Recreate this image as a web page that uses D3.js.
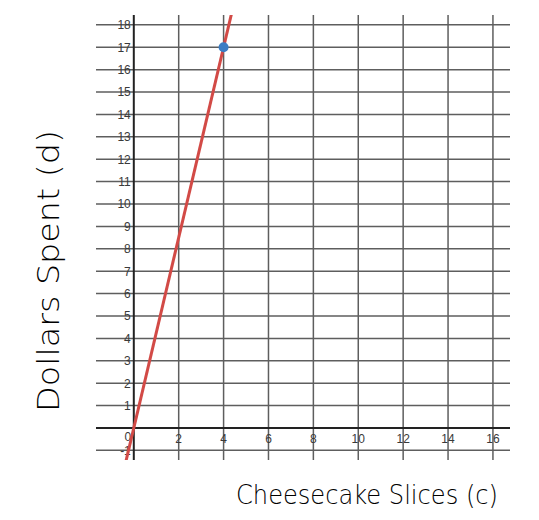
<!DOCTYPE html>
<html>
<head>
<meta charset="utf-8">
<script src="https://cdn.jsdelivr.net/npm/d3@7"></script>
<style>
  body { margin: 0; background: #fff; }
</style>
</head>
<body>
<div id="chart"></div>
<script>
    // data
    var xTicks = [0, 2, 4, 6, 8, 10, 12, 14, 16];
    var yTicks = [-1, 1, 2, 3, 4, 5, 6, 7, 8, 9, 10, 11, 12, 13, 14, 15, 16, 17, 18];
    var lineC = [-0.4, 4.4];
    var lineD = [-1.7, 18.7];
    var pointC = [4];
    var pointD = [17];
    var xTitle = "Cheesecake Slices (c)";
    var yTitle = "Dollars Spent (d)";

    var width = 539, height = 520;

    var svg = d3.select("#chart")
      .append("svg")
      .attr("width", width)
      .attr("height", height);

    // plot area in pixels
    var plotL = 96, plotR = 510, plotT = 15, plotB = 460;

    var x = d3.scaleLinear()
      .domain([-1.684, 16.76])
      .range([plotL, plotR]);
    var y = d3.scaleLinear()
      .domain([-1.43, 18.44])
      .range([plotB, plotT]);

    // grid lines
    var grid = svg.append("g");
    grid.selectAll("line.h")
      .data(yTicks)
      .enter().append("line")
      .attr("class", "h")
      .attr("x1", plotL).attr("x2", plotR)
      .attr("y1", function (d) { return y(d); })
      .attr("y2", function (d) { return y(d); })
      .attr("stroke", "#5e5e5e")
      .attr("stroke-width", 1.5);
    grid.selectAll("line.v")
      .data(xTicks.filter(function (d) { return d !== 0; }))
      .enter().append("line")
      .attr("class", "v")
      .attr("y1", plotT).attr("y2", plotB)
      .attr("x1", function (d) { return x(d); })
      .attr("x2", function (d) { return x(d); })
      .attr("stroke", "#5e5e5e")
      .attr("stroke-width", 1.5);

    // axes
    svg.append("line")
      .attr("x1", plotL).attr("x2", plotR)
      .attr("y1", y(0)).attr("y2", y(0))
      .attr("stroke", "#222")
      .attr("stroke-width", 2);
    svg.append("line")
      .attr("x1", x(0)).attr("x2", x(0))
      .attr("y1", plotT).attr("y2", plotB)
      .attr("stroke", "#222")
      .attr("stroke-width", 2);

    // tick labels
    svg.selectAll("text.yt")
      .data(yTicks)
      .enter().append("text")
      .attr("class", "yt")
      .attr("x", x(0) - 3)
      .attr("y", function (d) { return y(d); })
      .attr("dy", "0.36em")
      .attr("text-anchor", "end")
      .attr("font-family", "Liberation Sans, Arial, sans-serif")
      .attr("font-size", 12)
      .attr("fill", "#3a3a3a")
      .text(function (d) { return d; });

    svg.selectAll("text.xt")
      .data(xTicks)
      .enter().append("text")
      .attr("class", "xt")
      .attr("x", function (d) { return d === 0 ? x(d) - 6 : x(d); })
      .attr("y", function (d) { return d === 0 ? y(0) + 13 : y(0) + 15; })
      .attr("text-anchor", "middle")
      .attr("font-family", "Liberation Sans, Arial, sans-serif")
      .attr("font-size", 12)
      .attr("fill", "#3a3a3a")
      .text(function (d) { return d; });

    // line, clipped to plot
    svg.append("clipPath")
      .attr("id", "plotClip")
      .append("rect")
      .attr("x", plotL).attr("y", plotT)
      .attr("width", plotR - plotL).attr("height", plotB - plotT);

    var linePts = lineC.map(function (c, i) { return { c: c, d: lineD[i] }; });
    svg.append("path")
      .datum(linePts)
      .attr("clip-path", "url(#plotClip)")
      .attr("fill", "none")
      .attr("stroke", "#d24a46")
      .attr("stroke-width", 3)
      .attr("d", d3.line()
        .x(function (d) { return x(d.c); })
        .y(function (d) { return y(d.d); }));

    svg.selectAll("circle")
      .data(pointC)
      .enter().append("circle")
      .attr("cx", function (d) { return x(d); })
      .attr("cy", function (d, i) { return y(pointD[i]); })
      .attr("r", 5)
      .attr("fill", "#3b7dc4");

    // axis titles (handwritten in the original)
    svg.append("text")
      .attr("x", 236)
      .attr("y", 504)
      .attr("font-family", "DejaVu Sans, sans-serif")
      .attr("font-weight", 200)
      .attr("font-size", 27)
      .attr("textLength", 262)
      .attr("lengthAdjust", "spacingAndGlyphs")
      .attr("fill", "#000")
      .text(xTitle);

    svg.append("text")
      .attr("transform", "translate(59,412)rotate(-90)")
      .attr("font-family", "DejaVu Sans, sans-serif")
      .attr("font-weight", 200)
      .attr("font-size", 30)
      .attr("textLength", 282)
      .attr("lengthAdjust", "spacingAndGlyphs")
      .attr("fill", "#000")
      .text(yTitle);
</script>
</body>
</html>
